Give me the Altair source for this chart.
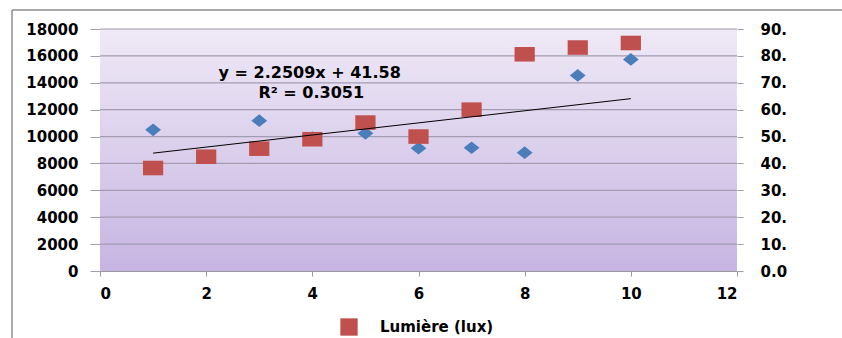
import altair as alt
import pandas as pd

# ---- data ----
x_vals = [1, 2, 3, 4, 5, 6, 7, 8, 9, 10]
blue_vals = [10500, 8550, 11180, 9920, 10240, 9130, 9170, 8800, 14550, 15740]   # left axis
red_vals = [38.3, 42.5, 45.5, 49.0, 55.2, 50.0, 60.0, 80.6, 83.1, 84.8]          # right axis
trend_x = [1, 10]
trend_y = [43.83, 64.09]                                                          # right axis
eq_lines = ["y = 2.2509x + 41.58", "R\u00b2 = 0.3051"]
legend_label = "Lumi\u00e8re (lux)"
left_ticks = [0, 2000, 4000, 6000, 8000, 10000, 12000, 14000, 16000, 18000]
right_ticks = [0, 10, 20, 30, 40, 50, 60, 70, 80, 90]
x_ticks = [0, 2, 4, 6, 8, 10, 12]

W, H = 637, 242
FONT = "DejaVu Sans"
FS = 15

df_blue = pd.DataFrame({"x": x_vals, "y": blue_vals})
df_red = pd.DataFrame({"x": x_vals, "y": red_vals, "s": [legend_label] * len(x_vals)})
df_trend = pd.DataFrame({"x": trend_x, "y": trend_y})
df_eq = pd.DataFrame({"t": eq_lines, "x": [3.95, 3.98], "y": [14750, 13250]})
df_grid = pd.DataFrame({"y": left_ticks[1:]})

xscale = alt.Scale(domain=[0, 12], nice=False, zero=False)
xaxis = alt.Axis(values=x_ticks, title=None, grid=False,
                 labelFont=FONT, labelFontWeight="bold", labelFontSize=FS,
                 labelColor="#000000", labelPadding=10, tickSize=5,
                 tickColor="#9a9a9a", domainColor="#9a9a9a")
lscale = alt.Scale(domain=[0, 18000], nice=False)
rscale = alt.Scale(domain=[0, 90], nice=False)

bg = alt.Chart(pd.DataFrame({"a": [0]})).mark_rect(
    color=alt.Gradient(gradient="linear", x1=0, x2=0, y1=0, y2=1,
                       stops=[alt.GradientStop(offset=0, color="#efe9f6"),
                              alt.GradientStop(offset=1, color="#c6b5e2")])
).encode(x=alt.value(0), x2=alt.value(W), y=alt.value(0), y2=alt.value(H))

grid = alt.Chart(df_grid).mark_rule(color="#a39bb0", strokeWidth=1.2).encode(
    x=alt.value(0), x2=alt.value(W),
    y=alt.Y("y:Q", scale=lscale, axis=None))

frame_left = alt.Chart(pd.DataFrame({"a": [0]})).mark_rule(color="#8c8c8c", strokeWidth=1.5).encode(
    x=alt.value(-88), y=alt.value(-19), y2=alt.value(330))
frame_top = alt.Chart(pd.DataFrame({"a": [0]})).mark_rule(color="#8c8c8c", strokeWidth=1.5).encode(
    x=alt.value(-88), x2=alt.value(760), y=alt.value(-19))

left_axis = alt.Axis(values=left_ticks, title=None, grid=False, format="d",
                     domainColor="#9a9a9a",
                     tickColor="#a39bb0", tickSize=10, labelPadding=12,
                     labelFont=FONT, labelFontWeight="bold", labelFontSize=FS,
                     labelColor="#000000", orient="left")
right_axis = alt.Axis(values=right_ticks, title=None, grid=False,
                      orient="right", domain=False, tickColor="#a39bb0", tickSize=6,
                      labelPadding=17, labelFont=FONT, labelFontWeight="bold",
                      labelFontSize=FS, labelColor="#000000",
                      labelExpr="substring(format(datum.value, '.1f'), 0, 3)")

X = alt.X("x:Q", scale=xscale, axis=xaxis)

blue = alt.Chart(df_blue).mark_point(
    shape="M-1,0L0,-0.8L1,0L0,0.8Z", size=250, filled=True, opacity=1, color="#4a7ebb"
).encode(x=X, y=alt.Y("y:Q", scale=lscale, axis=left_axis))

red = alt.Chart(df_red).mark_point(
    shape="M-1,-0.72L1,-0.72L1,0.72L-1,0.72Z", size=410, filled=True, opacity=1
).encode(x=X,
         y=alt.Y("y:Q", scale=rscale, axis=right_axis),
         color=alt.Color("s:N", scale=alt.Scale(domain=[legend_label], range=["#c0504d"]),
                         legend=alt.Legend(title=None, orient="none", legendX=240, legendY=289,
                                           symbolType="square", symbolSize=300,
                                           symbolStrokeWidth=0, labelFont=FONT,
                                           labelFontWeight="bold", labelFontSize=FS,
                                           labelColor="#000000", labelOffset=22)))

trend = alt.Chart(df_trend).mark_line(color="#000000", strokeWidth=1).encode(
    x=X, y=alt.Y("y:Q", scale=rscale, axis=None))

eq = alt.Chart(df_eq).mark_text(font=FONT, fontWeight="bold", fontSize=16, color="#000000").encode(
    x=X, y=alt.Y("y:Q", scale=lscale, axis=None), text="t:N")

chart = alt.layer(bg, grid, frame_left, frame_top, blue, red, trend, eq).resolve_scale(
    y="independent"
).properties(
    width=W, height=H,
    autosize=alt.AutoSizeParams(type="none"),
    padding={"left": 100, "top": 29, "right": 105, "bottom": 67},
    background="#ffffff",
).configure_view(stroke=None)

chart.save("out.html", embed_options={"renderer": "svg", "actions": False})
